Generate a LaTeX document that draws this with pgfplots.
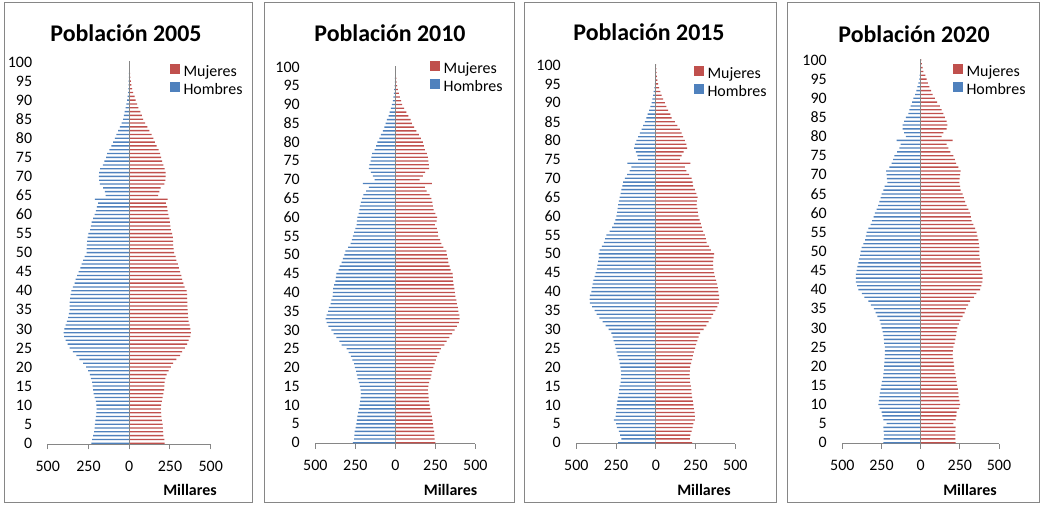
\documentclass[border=0pt]{standalone}
\usepackage{fontspec}
\setmainfont{Carlito}
\usepackage{pgfplots}
\usepackage{pgfplotstable}
\pgfplotsset{compat=1.18}

\definecolor{mujer}{HTML}{C0504D}
\definecolor{hombre}{HTML}{4F81BD}
\definecolor{ejes}{HTML}{868686}

% edad, hombres (negativo), mujeres -- miles de personas
\pgfplotstableread[row sep=\\]{
edad h m \\
0 -232 218 \\ 1 -228 215 \\ 2 -222 210 \\ 3 -215 208 \\ 4 -212 206 \\
5 -210 205 \\ 6 -208 200 \\ 7 -205 198 \\ 8 -202 196 \\ 9 -200 195 \\
10 -202 196 \\ 11 -205 200 \\ 12 -212 205 \\ 13 -218 210 \\ 14 -222 214 \\
15 -225 216 \\ 16 -228 218 \\ 17 -235 222 \\ 18 -242 230 \\ 19 -252 242 \\
20 -265 255 \\ 21 -283 270 \\ 22 -305 290 \\ 23 -324 312 \\ 24 -345 325 \\
25 -365 342 \\ 26 -378 355 \\ 27 -390 365 \\ 28 -400 375 \\ 29 -402 378 \\
30 -398 375 \\ 31 -390 370 \\ 32 -382 365 \\ 33 -375 362 \\ 34 -370 360 \\
35 -366 358 \\ 36 -365 357 \\ 37 -365 357 \\ 38 -363 356 \\ 39 -360 355 \\
40 -355 352 \\ 41 -345 340 \\ 42 -335 332 \\ 43 -328 325 \\ 44 -320 320 \\
45 -310 312 \\ 46 -300 305 \\ 47 -292 298 \\ 48 -283 290 \\ 49 -273 285 \\
50 -262 275 \\ 51 -262 272 \\ 52 -260 270 \\ 53 -258 270 \\ 54 -255 268 \\
55 -250 264 \\ 56 -240 255 \\ 57 -235 252 \\ 58 -230 250 \\ 59 -222 246 \\
60 -212 240 \\ 61 -205 236 \\ 62 -198 232 \\ 63 -190 225 \\ 64 -211 236 \\
65 -145 178 \\ 66 -150 185 \\ 67 -160 192 \\ 68 -180 215 \\ 69 -185 222 \\
70 -186 224 \\ 71 -185 223 \\ 72 -178 218 \\ 73 -162 210 \\ 74 -152 202 \\
75 -142 196 \\ 76 -135 189 \\ 77 -122 180 \\ 78 -110 168 \\ 79 -98 158 \\
80 -88 148 \\ 81 -78 137 \\ 82 -68 124 \\ 83 -58 112 \\ 84 -46 98 \\
85 -38 86 \\ 86 -33 78 \\ 87 -28 68 \\ 88 -22 56 \\ 89 -17 48 \\
90 -13 40 \\ 91 -10 33 \\ 92 -7 24 \\ 93 -5 18 \\ 94 -4 14 \\
95 -3 10 \\ 96 -2 7 \\ 97 -1.5 5 \\ 98 -1 3 \\ 99 -0.6 2 \\
100 -1 3 \\
}\datosA

\pgfplotstableread[row sep=\\]{
edad h m \\
0 -265 250 \\ 1 -258 246 \\ 2 -256 244 \\ 3 -254 242 \\ 4 -248 238 \\
5 -244 235 \\ 6 -240 232 \\ 7 -237 229 \\ 8 -233 221 \\ 9 -228 218 \\
10 -223 214 \\ 11 -220 210 \\ 12 -217 208 \\ 13 -216 206 \\ 14 -217 204 \\
15 -222 207 \\ 16 -228 212 \\ 17 -236 220 \\ 18 -240 226 \\ 19 -245 230 \\
20 -252 238 \\ 21 -258 246 \\ 22 -268 254 \\ 23 -278 262 \\ 24 -292 276 \\
25 -305 285 \\ 26 -335 306 \\ 27 -350 320 \\ 28 -368 338 \\ 29 -385 355 \\
30 -400 370 \\ 31 -418 385 \\ 32 -430 398 \\ 33 -435 402 \\ 34 -430 400 \\
35 -420 394 \\ 36 -415 391 \\ 37 -405 385 \\ 38 -400 382 \\ 39 -392 375 \\
40 -390 372 \\ 41 -389 369 \\ 42 -382 365 \\ 43 -375 361 \\ 44 -372 360 \\
45 -368 358 \\ 46 -355 345 \\ 47 -348 340 \\ 48 -335 332 \\ 49 -327 329 \\
50 -318 322 \\ 51 -312 319 \\ 52 -295 300 \\ 53 -280 288 \\ 54 -272 280 \\
55 -265 268 \\ 56 -258 266 \\ 57 -250 260 \\ 58 -242 248 \\ 59 -240 258 \\
60 -237 262 \\ 61 -230 250 \\ 62 -225 240 \\ 63 -222 235 \\ 64 -215 232 \\
65 -208 225 \\ 66 -200 215 \\ 67 -182 195 \\ 68 -165 184 \\ 69 -202 229 \\
70 -130 152 \\ 71 -140 172 \\ 72 -152 186 \\ 73 -165 212 \\ 74 -162 210 \\
75 -155 207 \\ 76 -150 203 \\ 77 -145 198 \\ 78 -130 185 \\ 79 -120 178 \\
80 -112 172 \\ 81 -100 160 \\ 82 -90 148 \\ 83 -78 132 \\ 84 -68 118 \\
85 -60 104 \\ 86 -52 95 \\ 87 -42 82 \\ 88 -35 69 \\ 89 -27 55 \\
90 -21 42 \\ 91 -16 36 \\ 92 -12 28 \\ 93 -9 22 \\ 94 -7 16 \\
95 -5 12 \\ 96 -3 8 \\ 97 -2 6 \\ 98 -1.5 4 \\ 99 -1 2 \\
100 -1 2 \\
}\datosB

\pgfplotstableread[row sep=\\]{
edad h m \\
0 -237 229 \\ 1 -216 214 \\ 2 -225 218 \\ 3 -233 225 \\ 4 -245 232 \\
5 -250 236 \\ 6 -263 246 \\ 7 -252 246 \\ 8 -250 244 \\ 9 -248 240 \\
10 -245 236 \\ 11 -242 233 \\ 12 -238 228 \\ 13 -233 225 \\ 14 -230 223 \\
15 -227 221 \\ 16 -222 216 \\ 17 -220 214 \\ 18 -218 212 \\ 19 -220 214 \\
20 -223 216 \\ 21 -228 222 \\ 22 -233 228 \\ 23 -240 233 \\ 24 -246 240 \\
25 -252 248 \\ 26 -258 254 \\ 27 -265 262 \\ 28 -272 270 \\ 29 -280 278 \\
30 -296 300 \\ 31 -315 318 \\ 32 -335 332 \\ 33 -355 350 \\ 34 -372 360 \\
35 -385 375 \\ 36 -400 388 \\ 37 -414 396 \\ 38 -416 398 \\ 39 -414 399 \\
40 -405 393 \\ 41 -402 390 \\ 42 -398 386 \\ 43 -392 380 \\ 44 -385 372 \\
45 -378 366 \\ 46 -370 362 \\ 47 -368 361 \\ 48 -363 361 \\ 49 -358 364 \\
50 -360 366 \\ 51 -353 347 \\ 52 -340 335 \\ 53 -326 320 \\ 54 -318 315 \\
55 -311 309 \\ 56 -290 298 \\ 57 -275 290 \\ 58 -263 284 \\ 59 -255 276 \\
60 -248 267 \\ 61 -244 264 \\ 62 -240 262 \\ 63 -237 256 \\ 64 -232 258 \\
65 -227 263 \\ 66 -222 255 \\ 67 -216 245 \\ 68 -210 235 \\ 69 -205 232 \\
70 -195 225 \\ 71 -180 210 \\ 72 -164 193 \\ 73 -153 183 \\ 74 -179 218 \\
75 -111 151 \\ 76 -116 162 \\ 77 -125 175 \\ 78 -137 197 \\ 79 -132 193 \\
80 -122 183 \\ 81 -111 172 \\ 82 -100 162 \\ 83 -90 151 \\ 84 -80 135 \\
85 -69 120 \\ 86 -59 99 \\ 87 -52 92 \\ 88 -42 78 \\ 89 -34 66 \\
90 -27 57 \\ 91 -22 46 \\ 92 -17 36 \\ 93 -13 28 \\ 94 -9 21 \\
95 -6 15 \\ 96 -4 10 \\ 97 -3 7 \\ 98 -2 5 \\ 99 -1 3 \\
100 -1 2 \\
}\datosC

\pgfplotstableread[row sep=\\]{
edad h m \\
0 -238 223 \\ 1 -236 222 \\ 2 -234 221 \\ 3 -236 222 \\ 4 -238 223 \\
5 -217 209 \\ 6 -238 223 \\ 7 -245 228 \\ 8 -249 230 \\ 9 -262 245 \\
10 -270 251 \\ 11 -266 247 \\ 12 -263 243 \\ 13 -260 240 \\ 14 -255 237 \\
15 -251 233 \\ 16 -247 230 \\ 17 -240 224 \\ 18 -238 221 \\ 19 -235 215 \\
20 -234 213 \\ 21 -232 210 \\ 22 -230 207 \\ 23 -228 204 \\ 24 -228 206 \\
25 -229 209 \\ 26 -233 217 \\ 27 -235 221 \\ 28 -238 226 \\ 29 -243 230 \\
30 -249 234 \\ 31 -255 244 \\ 32 -262 253 \\ 33 -277 268 \\ 34 -288 280 \\
35 -298 289 \\ 36 -318 303 \\ 37 -334 315 \\ 38 -360 340 \\ 39 -375 355 \\
40 -398 379 \\ 41 -405 388 \\ 42 -413 394 \\ 43 -413 395 \\ 44 -413 394 \\
45 -409 389 \\ 46 -404 386 \\ 47 -398 383 \\ 48 -392 378 \\ 49 -387 374 \\
50 -383 374 \\ 51 -377 374 \\ 52 -366 371 \\ 53 -355 368 \\ 54 -350 362 \\
55 -345 357 \\ 56 -334 347 \\ 57 -320 336 \\ 58 -309 325 \\ 59 -300 320 \\
60 -292 315 \\ 61 -281 304 \\ 62 -272 294 \\ 63 -264 283 \\ 64 -256 275 \\
65 -249 268 \\ 66 -238 255 \\ 67 -230 251 \\ 68 -213 247 \\ 69 -215 249 \\
70 -217 251 \\ 71 -221 255 \\ 72 -200 240 \\ 73 -185 226 \\ 74 -176 218 \\
75 -168 209 \\ 76 -150 190 \\ 77 -136 177 \\ 78 -128 166 \\ 79 -153 204 \\
80 -94 134 \\ 81 -106 145 \\ 82 -115 166 \\ 83 -115 170 \\ 84 -106 166 \\
85 -94 155 \\ 86 -79 145 \\ 87 -72 134 \\ 88 -64 123 \\ 89 -55 105 \\
90 -47 91 \\ 91 -36 77 \\ 92 -28 66 \\ 93 -21 55 \\ 94 -14 46 \\
95 -8 38 \\ 96 -6 30 \\ 97 -4 17 \\ 98 -3 12 \\ 99 -2 8 \\
100 -1 4 \\
}\datosD

\pgfplotsset{
  piramide/.style={
    scale only axis,
    anchor=south west,
    xmin=-500, xmax=500,
    ymin=-0.3, ymax=100.3,
    xtick={-500,-250,0,250,500},
    xticklabels={\mbox{500},\mbox{250},\mbox{0},\mbox{250},\mbox{500}},
    ytick={0,5,...,100},
    axis x line*=bottom,
    axis y line*=left,
    x axis line style={ejes, line width=0.75bp, -},
    y axis line style={draw=none},
    xtick style={ejes, line width=0.75bp},
    ytick style={draw=none},
    tick align=outside,
    major tick length=3.75bp,
    tick label style={font=\fontsize{12}{14}\selectfont},
    xticklabel style={anchor=north, inner sep=0pt, yshift=-8.5bp},
    yticklabel style={anchor=east, inner sep=0pt, xshift=-7.75bp},
    /pgf/number format/assume math mode=true,
    xbar, bar width=0.35, bar shift=0pt,
    legend cell align=left,
    legend image code/.code={\fill[##1] (0bp,-0.5bp) rectangle (7.5bp,7bp);},
    legend style={draw=none, fill=none, anchor=north west, inner sep=0pt,
      column sep=2.5bp, font=\fontsize{12}{14}\selectfont,
      nodes={inner sep=0pt, text height=9bp, text depth=3.75bp}},
    clip=false,
  },
}

\begin{document}
\begin{tikzpicture}
\useasboundingbox (0,0) rectangle (781.5bp,380.25bp);

% 2005
\draw[ejes, line width=0.75bp] (3bp,3bp) rectangle (189bp,378bp);
\begin{axis}[piramide, at={(35.78bp,46.95bp)}, width=122.25bp, height=287.63bp,
  legend style={at={(0.750,0.993)}}]
  \addplot[fill=mujer, draw=none, bar shift=0pt] table[x=m, y=edad] {\datosA};
  \addlegendentry{Mujeres}
  \addplot[fill=hombre, draw=none, bar shift=0pt] table[x=h, y=edad] {\datosA};
  \addlegendentry{Hombres}
  \draw[ejes, line width=0.75bp] (axis cs:0,-0.3) -- (axis cs:0,100.3);
\end{axis}
\node[font=\bfseries\fontsize{18}{20}\selectfont, anchor=base] at (94.5bp,349bp) {Población 2005};
\node[font=\bfseries\fontsize{12}{14}\selectfont, anchor=base] at (142.5bp,9bp) {Millares};

% 2010
\draw[ejes, line width=0.75bp] (198bp,3bp) rectangle (385.5bp,378bp);
\begin{axis}[piramide, at={(236.48bp,47.4bp)}, width=120bp, height=283.43bp,
  legend style={at={(0.717,1.014)}}]
  \addplot[fill=mujer, draw=none, bar shift=0pt] table[x=m, y=edad] {\datosB};
  \addlegendentry{Mujeres}
  \addplot[fill=hombre, draw=none, bar shift=0pt] table[x=h, y=edad] {\datosB};
  \addlegendentry{Hombres}
  \draw[ejes, line width=0.75bp] (axis cs:0,-0.3) -- (axis cs:0,100.3);
\end{axis}
\node[font=\bfseries\fontsize{18}{20}\selectfont, anchor=base] at (292.5bp,349bp) {Población 2010};
\node[font=\bfseries\fontsize{12}{14}\selectfont, anchor=base] at (337.9bp,9bp) {Millares};

% 2015
\draw[ejes, line width=0.75bp] (393bp,3bp) rectangle (582bp,378bp);
\begin{axis}[piramide, at={(432.23bp,47.4bp)}, width=119.25bp, height=284.93bp,
  legend style={at={(0.740,0.996)}}]
  \addplot[fill=mujer, draw=none, bar shift=0pt] table[x=m, y=edad] {\datosC};
  \addlegendentry{Mujeres}
  \addplot[fill=hombre, draw=none, bar shift=0pt] table[x=h, y=edad] {\datosC};
  \addlegendentry{Hombres}
  \draw[ejes, line width=0.75bp] (axis cs:0,-0.3) -- (axis cs:0,100.3);
\end{axis}
\node[font=\bfseries\fontsize{18}{20}\selectfont, anchor=base] at (486.75bp,349.5bp) {Población 2015};
\node[font=\bfseries\fontsize{12}{14}\selectfont, anchor=base] at (528bp,9bp) {Millares};

% 2020
\draw[ejes, line width=0.75bp] (590.25bp,3bp) rectangle (779.25bp,378bp);
\begin{axis}[piramide, at={(631.73bp,47.36bp)}, width=117.53bp, height=288.75bp,
  legend style={at={(0.706,0.988)}}]
  \addplot[fill=mujer, draw=none, bar shift=0pt] table[x=m, y=edad] {\datosD};
  \addlegendentry{Mujeres}
  \addplot[fill=hombre, draw=none, bar shift=0pt] table[x=h, y=edad] {\datosD};
  \addlegendentry{Hombres}
  \draw[ejes, line width=0.75bp] (axis cs:0,-0.3) -- (axis cs:0,100.3);
\end{axis}
\node[font=\bfseries\fontsize{18}{20}\selectfont, anchor=base] at (685.5bp,348.5bp) {Población 2020};
\node[font=\bfseries\fontsize{12}{14}\selectfont, anchor=base] at (727.5bp,9bp) {Millares};
\end{tikzpicture}
\end{document}
